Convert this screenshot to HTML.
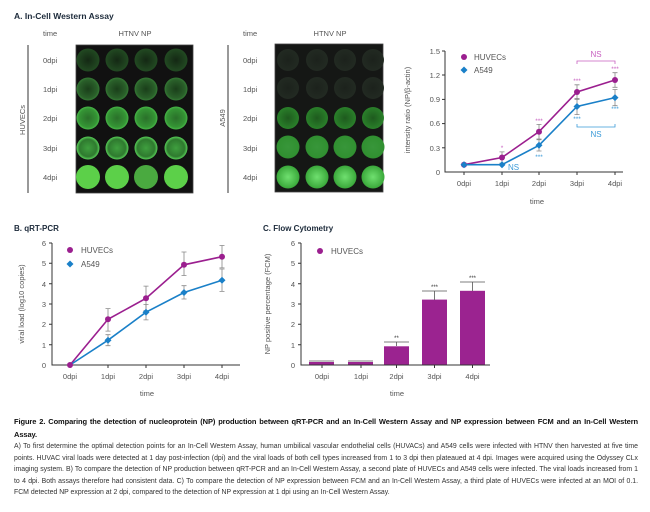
<!DOCTYPE html>
<html><head><meta charset="utf-8"><style>
body{margin:0;width:650px;height:512px;background:#fff;overflow:hidden;font-family:"Liberation Sans",sans-serif}
svg{position:absolute;left:0;top:0}
.cap{position:absolute;left:14px;top:416px;width:624px;font-size:6.9px;line-height:11.5px;color:#333;text-align:justify}
.cap b{color:#111;font-size:7.5px;letter-spacing:-0.1px}
</style></head><body>
<svg width="650" height="512" font-family="Liberation Sans, sans-serif">
<defs>
<radialGradient id="g0" ><stop offset="0" stop-color="#142814"/><stop offset="1" stop-color="#224a22"/></radialGradient>
<radialGradient id="g1"><stop offset="0" stop-color="#1a3e1a"/><stop offset="0.8" stop-color="#2a602a"/><stop offset="1" stop-color="#357a35"/></radialGradient>
<radialGradient id="g2"><stop offset="0" stop-color="#2a702a"/><stop offset="0.8" stop-color="#359535"/><stop offset="1" stop-color="#48b848"/></radialGradient>
<radialGradient id="g3"><stop offset="0" stop-color="#3f9f3f"/><stop offset="0.75" stop-color="#2f7a2f"/><stop offset="1" stop-color="#58d058"/></radialGradient>
<radialGradient id="b0"><stop offset="0" stop-color="#1c221c"/><stop offset="1" stop-color="#222a22"/></radialGradient>
<radialGradient id="b2"><stop offset="0" stop-color="#1e5a1e"/><stop offset="1" stop-color="#2a802a"/></radialGradient>
<radialGradient id="b3"><stop offset="0" stop-color="#38963a"/><stop offset="1" stop-color="#309030"/></radialGradient>
<radialGradient id="b4"><stop offset="0" stop-color="#70e070"/><stop offset="1" stop-color="#3aa83a"/></radialGradient>
</defs>
<text x="14" y="19" font-size="8.5" font-weight="bold" fill="#1c2a3a">A. In-Cell Western Assay</text>
<g font-size="7.5" fill="#555">
<text x="43" y="36">time</text><text x="135" y="36" text-anchor="middle">HTNV NP</text>
<text x="43" y="63">0dpi</text><text x="43" y="92">1dpi</text><text x="43" y="121">2dpi</text><text x="43" y="151">3dpi</text><text x="43" y="180">4dpi</text>
<text x="243" y="36">time</text><text x="330" y="36" text-anchor="middle">HTNV NP</text>
<text x="243" y="63">0dpi</text><text x="243" y="92">1dpi</text><text x="243" y="121">2dpi</text><text x="243" y="151">3dpi</text><text x="243" y="180">4dpi</text>
<text transform="translate(25,120) rotate(-90)" text-anchor="middle">HUVECs</text>
<text transform="translate(225,118) rotate(-90)" text-anchor="middle">A549</text>
</g>
<line x1="28" y1="45" x2="28" y2="193" stroke="#333" stroke-width="1"/>
<line x1="228" y1="45" x2="228" y2="193" stroke="#333" stroke-width="1"/>
<rect x="76" y="45" width="117" height="148" fill="#111" stroke="#444" stroke-width="0.8"/>
<rect x="275" y="44" width="108" height="148" fill="#151715" stroke="#444" stroke-width="0.8"/>
<g>
<g fill="url(#g0)"><circle cx="88" cy="60" r="11.5"/><circle cx="117" cy="60" r="11.5"/><circle cx="146" cy="60" r="11.5"/><circle cx="176" cy="60" r="11.5"/></g>
<g fill="url(#g1)"><circle cx="88" cy="89" r="11.5"/><circle cx="117" cy="89" r="11.5"/><circle cx="146" cy="89" r="11.5"/><circle cx="176" cy="89" r="11.5"/></g>
<g fill="url(#g2)"><circle cx="88" cy="118" r="11.5"/><circle cx="117" cy="118" r="11.5"/><circle cx="146" cy="118" r="11.5"/><circle cx="176" cy="118" r="11.5"/></g>
<g fill="url(#g3)"><circle cx="88" cy="148" r="11.5"/><circle cx="117" cy="148" r="11.5"/><circle cx="146" cy="148" r="11.5"/><circle cx="176" cy="148" r="11.5"/></g>
<g fill="#5cd049"><circle cx="88" cy="177" r="12"/><circle cx="117" cy="177" r="12"/><circle cx="146" cy="177" r="12" fill="#4aaa40"/><circle cx="176" cy="177" r="12"/></g>
<g fill="url(#b0)"><circle cx="288" cy="60" r="11"/><circle cx="317" cy="60" r="11"/><circle cx="345" cy="60" r="11"/><circle cx="373" cy="60" r="11"/>
<circle cx="288" cy="88" r="11"/><circle cx="317" cy="88" r="11"/><circle cx="345" cy="88" r="11"/><circle cx="373" cy="88" r="11"/></g>
<g fill="url(#b2)"><circle cx="288" cy="118" r="11"/><circle cx="317" cy="118" r="11"/><circle cx="345" cy="118" r="11"/><circle cx="373" cy="118" r="11"/></g>
<g fill="url(#b3)"><circle cx="288" cy="147" r="11.5"/><circle cx="317" cy="147" r="11.5"/><circle cx="345" cy="147" r="11.5"/><circle cx="373" cy="147" r="11.5"/></g>
<g fill="url(#b4)"><circle cx="288" cy="177" r="11.5"/><circle cx="317" cy="177" r="11.5"/><circle cx="345" cy="177" r="11.5"/><circle cx="373" cy="177" r="11.5"/></g>
</g>

<!-- Chart A -->
<g font-size="7.5" fill="#555" stroke="none">
<path d="M445 51 V172 H623" fill="none" stroke="#333" stroke-width="1"/>
<g stroke="#333"><line x1="442" y1="51" x2="445" y2="51"/><line x1="442" y1="75" x2="445" y2="75"/><line x1="442" y1="99.4" x2="445" y2="99.4"/><line x1="442" y1="123.6" x2="445" y2="123.6"/><line x1="442" y1="147.8" x2="445" y2="147.8"/>
<line x1="464" y1="172" x2="464" y2="175"/><line x1="502" y1="172" x2="502" y2="175"/><line x1="539" y1="172" x2="539" y2="175"/><line x1="577" y1="172" x2="577" y2="175"/><line x1="615" y1="172" x2="615" y2="175"/></g>
<g text-anchor="end"><text x="440" y="54">1.5</text><text x="440" y="78">1.2</text><text x="440" y="102">0.9</text><text x="440" y="126">0.6</text><text x="440" y="151">0.3</text><text x="440" y="175">0</text></g>
<g text-anchor="middle"><text x="464" y="186">0dpi</text><text x="502" y="186">1dpi</text><text x="539" y="186">2dpi</text><text x="577" y="186">3dpi</text><text x="615" y="186">4dpi</text>
<text x="537" y="204">time</text>
<text transform="translate(410,110) rotate(-90)">intensity ratio (NP/β-actin)</text></g>
<g stroke="#888" stroke-width="0.8" fill="none">
<path d="M502 151.9V163.1M499.5 151.9h5M499.5 163.1h5"/>
<path d="M539 124.4V139M536.5 124.4h5M536.5 139h5"/>
<path d="M577 84.8V99.3M574.5 84.8h5M574.5 99.3h5"/>
<path d="M615 72.7V87.3M612.5 72.7h5M612.5 87.3h5"/>
<path d="M539 139.7V151M536.5 139.7h5M536.5 151h5"/>
<path d="M577 98.4V114.6M574.5 98.4h5M574.5 114.6h5"/>
<path d="M615 89.5V105.7M612.5 89.5h5M612.5 105.7h5"/>
</g>
<polyline points="464,164.7 502,157.5 539,131.7 577,92 615,80" fill="none" stroke="#9b1f8f" stroke-width="1.6"/>
<polyline points="464,164.7 502,164.7 539,145.3 577,106.5 615,97.6" fill="none" stroke="#1a80c8" stroke-width="1.6"/>
<g fill="#9b1f8f"><circle cx="464" cy="164.7" r="3"/><circle cx="502" cy="157.5" r="3"/><circle cx="539" cy="131.7" r="3"/><circle cx="577" cy="92" r="3"/><circle cx="615" cy="80" r="3"/></g>
<g fill="#1a80c8"><path d="M464 161.2l3.5 3.5-3.5 3.5-3.5-3.5zM502 161.2l3.5 3.5-3.5 3.5-3.5-3.5zM539 141.8l3.5 3.5-3.5 3.5-3.5-3.5zM577 103l3.5 3.5-3.5 3.5-3.5-3.5zM615 94.1l3.5 3.5-3.5 3.5-3.5-3.5z"/></g>
<circle cx="464" cy="57" r="3" fill="#9b1f8f"/><path d="M464 66.5l3.5 3.5-3.5 3.5-3.5-3.5z" fill="#1a80c8"/>
<text x="474" y="60" font-size="8">HUVECs</text><text x="474" y="73" font-size="8">A549</text>
<g fill="#c860c0" font-size="6.5" text-anchor="middle"><text x="502" y="150">*</text><text x="539" y="123">***</text><text x="577" y="83">***</text><text x="615" y="71">***</text></g>
<g fill="#3a9ad8" font-size="6.5" text-anchor="middle"><text x="539" y="159">***</text><text x="577" y="121">***</text><text x="615" y="111">***</text></g>
<text x="508" y="170" fill="#3a9ad8" font-size="8">NS</text>
<path d="M577 64v-3h38v3" fill="none" stroke="#c860c0" stroke-width="0.8"/><text x="596" y="57" fill="#c860c0" font-size="8" text-anchor="middle">NS</text>
<path d="M577 124v3h38v-3" fill="none" stroke="#3a9ad8" stroke-width="0.8"/><text x="596" y="137" fill="#3a9ad8" font-size="8" text-anchor="middle">NS</text>
</g>

<!-- Chart B -->
<text x="14" y="231" font-size="8" font-weight="bold" fill="#1c2a3a">B. qRT-PCR</text>
<g font-size="7.5" fill="#555">
<path d="M52 243 V365 H240" fill="none" stroke="#333"/>
<g stroke="#333"><path d="M49 243h3M49 263.3h3M49 283.7h3M49 304h3M49 324.3h3M49 344.7h3M70 365v3M108 365v3M146 365v3M184 365v3M222 365v3"/></g>
<g text-anchor="end"><text x="46" y="246">6</text><text x="46" y="266">5</text><text x="46" y="287">4</text><text x="46" y="307">3</text><text x="46" y="327">2</text><text x="46" y="348">1</text><text x="46" y="368">0</text></g>
<g text-anchor="middle"><text x="70" y="379">0dpi</text><text x="108" y="379">1dpi</text><text x="146" y="379">2dpi</text><text x="184" y="379">3dpi</text><text x="222" y="379">4dpi</text><text x="147" y="396">time</text>
<text transform="translate(24,304) rotate(-90)">viral load (log10 copies)</text></g>
<g stroke="#888" stroke-width="0.8" fill="none">
<path d="M108 308.6V331.1M105.5 308.6h5M105.5 331.1h5"/>
<path d="M146 286.1V310.6M143.5 286.1h5M143.5 310.6h5"/>
<path d="M184 252V275.5M181.5 252h5M181.5 275.5h5"/>
<path d="M222 245.5V267.9M219.5 245.5h5M219.5 267.9h5"/>
<path d="M108 334.7V345.7M105.5 334.7h5M105.5 345.7h5"/>
<path d="M146 304.4V319.9M143.5 304.4h5M143.5 319.9h5"/>
<path d="M184 285.7V299M181.5 285.7h5M181.5 299h5"/>
<path d="M222 269V291.4M219.5 269h5M219.5 291.4h5"/>
</g>
<polyline points="70,365 108,319.3 146,298.3 184,264.8 222,256.7" fill="none" stroke="#9b1f8f" stroke-width="1.6"/>
<polyline points="70,365 108,340.2 146,312.2 184,292.5 222,280.3" fill="none" stroke="#1a80c8" stroke-width="1.6"/>
<g fill="#9b1f8f"><circle cx="70" cy="365" r="3"/><circle cx="108" cy="319.3" r="3"/><circle cx="146" cy="298.3" r="3"/><circle cx="184" cy="264.8" r="3"/><circle cx="222" cy="256.7" r="3"/></g>
<g fill="#1a80c8"><path d="M108 336.7l3.5 3.5-3.5 3.5-3.5-3.5zM146 308.7l3.5 3.5-3.5 3.5-3.5-3.5zM184 289l3.5 3.5-3.5 3.5-3.5-3.5zM222 276.8l3.5 3.5-3.5 3.5-3.5-3.5z"/></g>
<circle cx="70" cy="250" r="3" fill="#9b1f8f"/><path d="M70 260.5l3.5 3.5-3.5 3.5-3.5-3.5z" fill="#1a80c8"/>
<text x="81" y="253" font-size="8">HUVECs</text><text x="81" y="267" font-size="8">A549</text>
</g>

<!-- Chart C -->
<text x="263" y="231" font-size="8" font-weight="bold" fill="#1c2a3a">C. Flow Cytometry</text>
<g font-size="7.5" fill="#555">
<g fill="#9b2390"><rect x="309" y="362" width="25" height="3"/><rect x="348" y="362" width="25" height="3"/><rect x="384" y="346.3" width="25" height="18.7"/><rect x="422" y="299.6" width="25" height="65.4"/><rect x="460" y="290.8" width="25" height="74.2"/></g>
<g stroke="#555" stroke-width="0.8"><path d="M309 361h25M348 361h25M396.5 346V342M384 342h25M434.5 300V291M422 291h25M472.5 291V282M460 282h25"/></g>
<g font-size="6" text-anchor="middle" fill="#333"><text x="396.5" y="340">**</text><text x="434.5" y="289">***</text><text x="472.5" y="280">***</text></g>
<path d="M301 243 V365 H490" fill="none" stroke="#333"/>
<g stroke="#333"><path d="M298 243h3M298 263.3h3M298 283.7h3M298 304h3M298 324.3h3M298 344.7h3M322 365v3M361 365v3M396.5 365v3M434.5 365v3M472.5 365v3"/></g>
<g text-anchor="end"><text x="295" y="246">6</text><text x="295" y="266">5</text><text x="295" y="287">4</text><text x="295" y="307">3</text><text x="295" y="327">2</text><text x="295" y="348">1</text><text x="295" y="368">0</text></g>
<g text-anchor="middle"><text x="322" y="379">0dpi</text><text x="361" y="379">1dpi</text><text x="396.5" y="379">2dpi</text><text x="434.5" y="379">3dpi</text><text x="472.5" y="379">4dpi</text><text x="397" y="396">time</text>
<text transform="translate(270,304) rotate(-90)">NP positive percentage (FCM)</text></g>
<circle cx="320" cy="251" r="3" fill="#9b1f8f"/><text x="331" y="254" font-size="8">HUVECs</text>
</g>
</svg>
<div class="cap"><b>Figure 2. Comparing the detection of nucleoprotein (NP) production between qRT-PCR and an In-Cell Western Assay and NP expression between FCM and an In-Cell Western Assay.</b><br>A) To first determine the optimal detection points for an In-Cell Western Assay, human umbilical vascular endothelial cells (HUVACs) and A549 cells were infected with HTNV then harvested at five time points. HUVAC viral loads were detected at 1 day post-infection (dpi) and the viral loads of both cell types increased from 1 to 3 dpi then plateaued at 4 dpi. Images were acquired using the Odyssey CLx imaging system. B) To compare the detection of NP production between qRT-PCR and an In-Cell Western Assay, a second plate of HUVECs and A549 cells were infected. The viral loads increased from 1 to 4 dpi. Both assays therefore had consistent data. C) To compare the detection of NP expression between FCM and an In-Cell Western Assay, a third plate of HUVECs were infected at an MOI of 0.1. FCM detected NP expression at 2 dpi, compared to the detection of NP expression at 1 dpi using an In-Cell Western Assay.</div>
</body></html>
